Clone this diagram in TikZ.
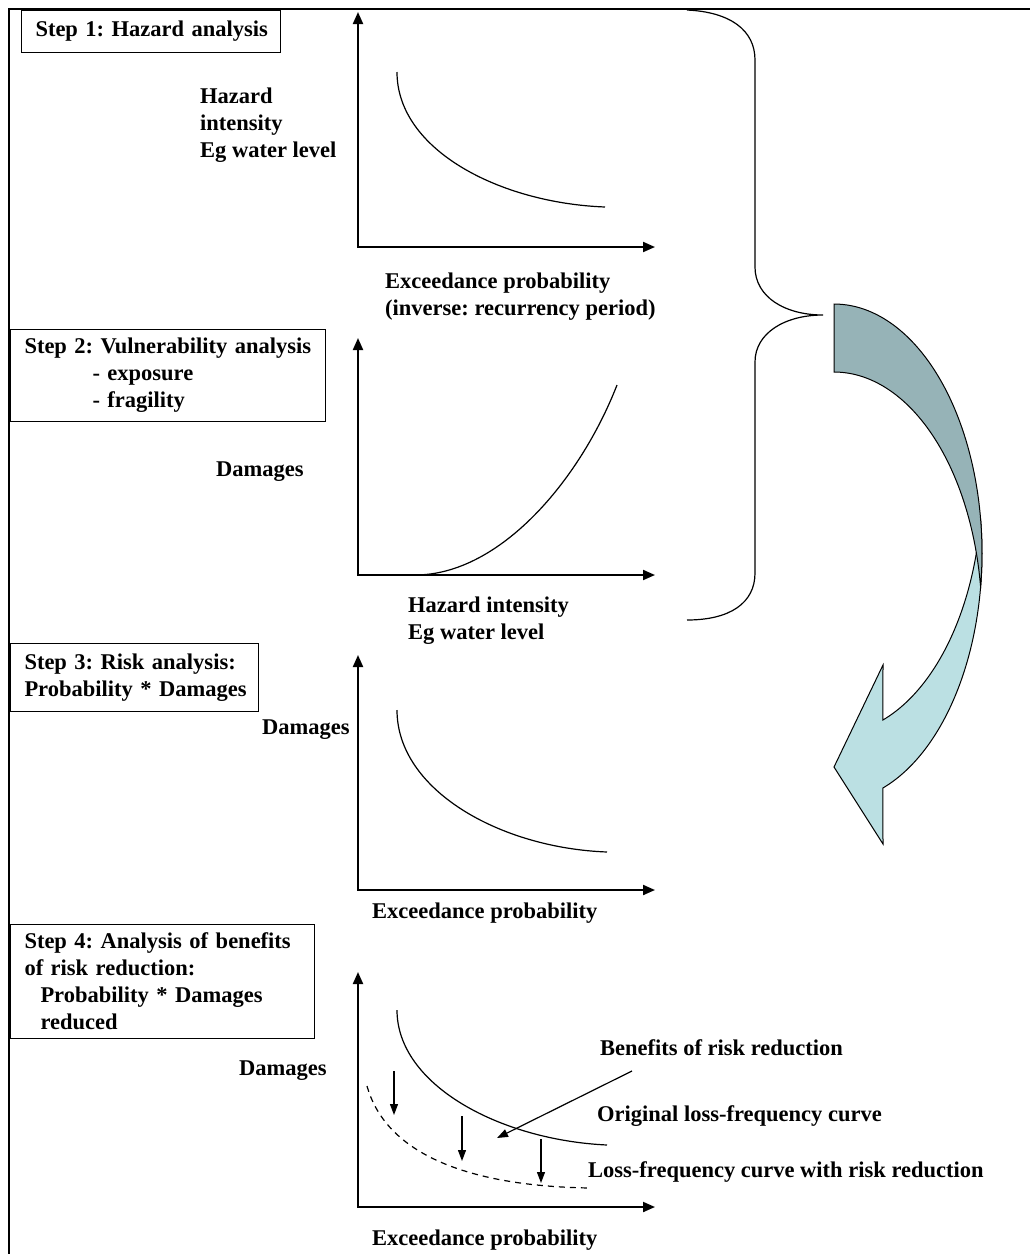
\documentclass[tikz,border=0pt]{standalone}
\usepackage{fontspec}
\setmainfont{Liberation Serif}
\usepackage{xcolor}
\usepackage{tikz}
\usetikzlibrary{arrows.meta}
\usetikzlibrary{positioning}

\definecolor{azuloscuro}{HTML}{96B3B7}
\definecolor{azulclaro}{HTML}{BBE0E3}

\begin{document}
\frenchspacing
\hfuzz=40pt
\begin{tikzpicture}[x=1pt, y=-1pt, every node/.style={font=\bfseries\fontsize{22.5}{27}\selectfont}]
\tikzstyle{paso}=[
    draw,
    line width=1pt,
    anchor=north west,
    align=left,
    inner xsep=14pt,
    inner ysep=0pt
]
\tikzstyle{etiqueta}=[anchor=west, align=left, inner sep=0pt]
\tikzstyle{eje}=[line width=2pt, {Triangle[length=12pt,width=10pt]}-{Triangle[length=12pt,width=10pt]}]
\tikzstyle{curva}=[line width=1.2pt]
\tikzstyle{flechita}=[line width=1.2pt, -{Triangle[length=11pt,width=8pt]}]

\useasboundingbox (0,0) rectangle (1029,1254);

% Marco
\draw[line width=2.5pt] (9,1260) -- (9,9) -- (1035,9);

% Cajas de pasos
\node[paso, minimum width=259, minimum height=42, text width=231] (paso1) at (21,10)
    {\mbox{Step 1: Hazard analysis}};
\node[paso, minimum width=315, minimum height=92, text width=287] (paso2) at (10,329)
    {\mbox{Step 2: Vulnerability analysis}\\\hspace*{68pt}- exposure\\\hspace*{68pt}- fragility};
\node[paso, minimum width=248, minimum height=68, text width=220] (paso3) at (10,643)
    {\mbox{Step 3: Risk analysis:}\\\mbox{Probability * Damages}};
\node[paso, minimum width=304, minimum height=114, text width=276] (paso4) at (10,924)
    {\mbox{Step 4: Analysis of benefits}\\\mbox{of risk reduction:}\\\mbox{\hspace*{16pt}Probability * Damages}\\\hspace*{16pt}reduced};

% Ejes
\coordinate (y1) at (358,12);   \coordinate (o1) at (358,247);  \coordinate (x1) at (655,247);
\coordinate (y2) at (358,338);  \coordinate (o2) at (358,575);  \coordinate (x2) at (655,575);
\coordinate (y3) at (358,655);  \coordinate (o3) at (358,890);  \coordinate (x3) at (655,890);
\coordinate (y4) at (358,972);  \coordinate (o4) at (358,1207); \coordinate (x4) at (655,1207);
\draw[eje] (y1) -- (o1) -- (x1);
\draw[eje] (y2) -- (o2) -- (x2);
\draw[eje] (y3) -- (o3) -- (x3);
\draw[eje] (y4) -- (o4) -- (x4);

% Curvas
\draw[curva] (397,72) .. controls (397,150) and (500,203) .. (605,207);
\draw[curva] (415,575) .. controls (500,575) and (580,480) .. (617,385);
\draw[curva] (397,710) .. controls (397,790) and (500,848) .. (607,852);
\draw[curva] (397,1010) .. controls (397,1085) and (500,1140) .. (607,1145);
\draw[curva, dashed, dash pattern=on 6pt off 5pt] (367,1086) .. controls (385,1150) and (460,1186) .. (590,1188);

% Etiquetas de ejes
\node[etiqueta] (int1) at (200,125) {Hazard\\intensity\\Eg water level};
\node[etiqueta] (prob1) at (385,297) {Exceedance probability\\(inverse: recurrency period)};
\node[etiqueta] (dan2) at (216,472) {Damages};
\node[etiqueta] (int2) at (408,621) {Hazard intensity\\Eg water level};
\node[etiqueta] (dan3) at (262,730) {Damages};
\node[etiqueta] (prob3) at (372,913) {Exceedance probability};
\node[etiqueta] (dan4) at (239,1071) {Damages};
\node[etiqueta] (prob4) at (372,1240) {Exceedance probability};

% Leyenda del paso 4
\node[etiqueta] (benef) at (600,1048) {Benefits of risk reduction};
\node[etiqueta] (orig) at (597,1116) {Original loss-frequency curve};
\node[etiqueta] (reduc) at (588,1172) {Loss-frequency curve with risk reduction};

% Flechas de reduccion
\coordinate (a1) at (394,1071); \coordinate (b1) at (394,1115);
\coordinate (a2) at (462,1116); \coordinate (b2) at (462,1161);
\coordinate (a3) at (541,1139); \coordinate (b3) at (541,1183);
\draw[flechita] (a1) -- (b1);
\draw[flechita] (a2) -- (b2);
\draw[flechita] (a3) -- (b3);
\coordinate (bini) at (632,1071); \coordinate (bfin) at (497,1138);
\draw[flechita] (bini) -- (bfin);

% Llave
\draw[line width=1.2pt] (687,10) .. controls (730,12) and (755,30) .. (755,60) -- (755,267)
    .. controls (755,297) and (785,315) .. (823,315)
    .. controls (785,315) and (755,333) .. (755,362) -- (755,573)
    .. controls (755,603) and (730,620) .. (687,620);

% Flecha curva
\filldraw[fill=azulclaro, line width=1pt]
    plot[domain=7.85:-70.7, samples=60] ({834+148*cos(\x)},{553-249*sin(\x)})
    -- (883,844) -- (834,767) -- (883,665)
    -- plot[domain=-70.7:-7.85, samples=60] ({834+148*cos(\x)},{485-249*sin(\x)}) -- cycle;
\filldraw[fill=azuloscuro, line width=1pt]
    plot[domain=90:-7.85, samples=60] ({834+148*cos(\x)},{553-249*sin(\x)})
    -- plot[domain=7.85:90, samples=60] ({834+148*cos(\x)},{621-249*sin(\x)}) -- cycle;

\end{tikzpicture}
\end{document}
